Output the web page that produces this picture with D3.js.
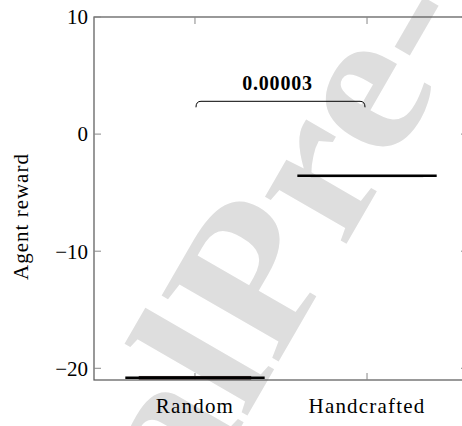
<!DOCTYPE html>
<html><head><meta charset="utf-8">
<script src="https://cdn.jsdelivr.net/npm/d3@7"></script>
<style>body{margin:0;background:#fff}svg{display:block}</style>
</head><body>
<script>
const categories = ["Random", "Handcrafted"];
const q1 = [-20.9, -3.62];
const median = [-20.8, -3.55];
const q3 = [-20.72, -3.58];
const yTicks = [-20, -10, 0, 10];
const sigLabel = "0.00003";
const sigLevel = 2.8;

const W = 462, H = 426;
const svg = d3.select("body").append("svg").attr("width", W).attr("height", H);
const font = '"Liberation Serif", "Times New Roman", serif';

// watermark
const wm = svg.append("g").attr("transform", "translate(276,366) rotate(-60) scale(1.08,1)")
  .style("font-family", font).style("font-weight", "bold").style("font-size", "205px")
  .attr("fill", "#dedede");
wm.append("text").text("Pre-proof");
wm.append("text").text("Journal ").attr("text-anchor", "end");

const pL = 94, pR = 468, pT = 17, pB = 380;
const x = d3.scalePoint().domain(categories).range([pL, pR]).padding(0.587);
const y = d3.scaleLinear().domain([-21, 10]).range([pB, pT]);

const g = svg.append("g");
g.append("rect").attr("x", pL).attr("y", pT).attr("width", pR - pL).attr("height", pB - pT)
  .attr("fill", "none").attr("stroke", "#555").attr("stroke-width", 1.2);

const tl = 7;
yTicks.forEach(t => {
  g.append("line").attr("x1", pL).attr("x2", pL + tl).attr("y1", y(t)).attr("y2", y(t)).attr("stroke", "#888");
  g.append("line").attr("x1", pR).attr("x2", pR - tl).attr("y1", y(t)).attr("y2", y(t)).attr("stroke", "#888");
  g.append("text").text(t < 0 ? "\u2212" + Math.abs(t) : t)
    .attr("x", pL - 6).attr("y", y(t)).attr("dy", "0.35em")
    .attr("text-anchor", "end").style("font-family", font).style("font-size", "21px");
});
categories.forEach(c => {
  g.append("line").attr("x1", x(c)).attr("x2", x(c)).attr("y1", pB).attr("y2", pB - tl).attr("stroke", "#888");
  g.append("line").attr("x1", x(c)).attr("x2", x(c)).attr("y1", pT).attr("y2", pT + tl).attr("stroke", "#888");
  g.append("text").text(c).attr("x", x(c)).attr("y", 413)
    .attr("text-anchor", "middle").style("font-family", font).style("font-size", "21px")
    .style("letter-spacing", "1.2px");
});

svg.append("text").text("Agent reward")
  .attr("transform", `translate(28,${(pT + pB) / 2 + 18}) rotate(-90)`)
  .attr("text-anchor", "middle").style("font-family", font).style("font-size", "21px")
  .style("letter-spacing", "1px");

const step = x.step();
const boxW = step * 0.645, capW = step * 0.81;
categories.forEach((c, i) => {
  const cx = x(c);
  g.append("rect").attr("x", cx - boxW / 2).attr("width", boxW)
    .attr("y", y(Math.max(q1[i], q3[i]))).attr("height", Math.abs(y(q1[i]) - y(q3[i])))
    .attr("fill", i === 0 ? "#2a1c1c" : "none").attr("stroke", i === 0 ? "#3a2a2a" : "#999").attr("stroke-width", 1.5);
  g.append("line").attr("x1", cx - capW / 2).attr("x2", cx + capW / 2)
    .attr("y1", y(median[i])).attr("y2", y(median[i])).attr("stroke", "#000").attr("stroke-width", 2.5);
});

const x1 = x(categories[0]) + 1, x2 = x(categories[1]) - 2, yb = y(sigLevel), drop = 6;
g.append("path")
  .attr("d", `M${x1},${yb + drop} Q${x1},${yb} ${x1 + 5},${yb} L${x2 - 5},${yb} Q${x2},${yb} ${x2},${yb + drop}`)
  .attr("fill", "none").attr("stroke", "#000").attr("stroke-width", 1);
g.append("text").text(sigLabel).attr("x", (x1 + x2) / 2 - 3).attr("y", yb - 11)
  .attr("text-anchor", "middle").style("font-family", font).style("font-weight", "bold").style("font-size", "20px")
  .style("letter-spacing", "0.8px");
</script>
</body></html>
